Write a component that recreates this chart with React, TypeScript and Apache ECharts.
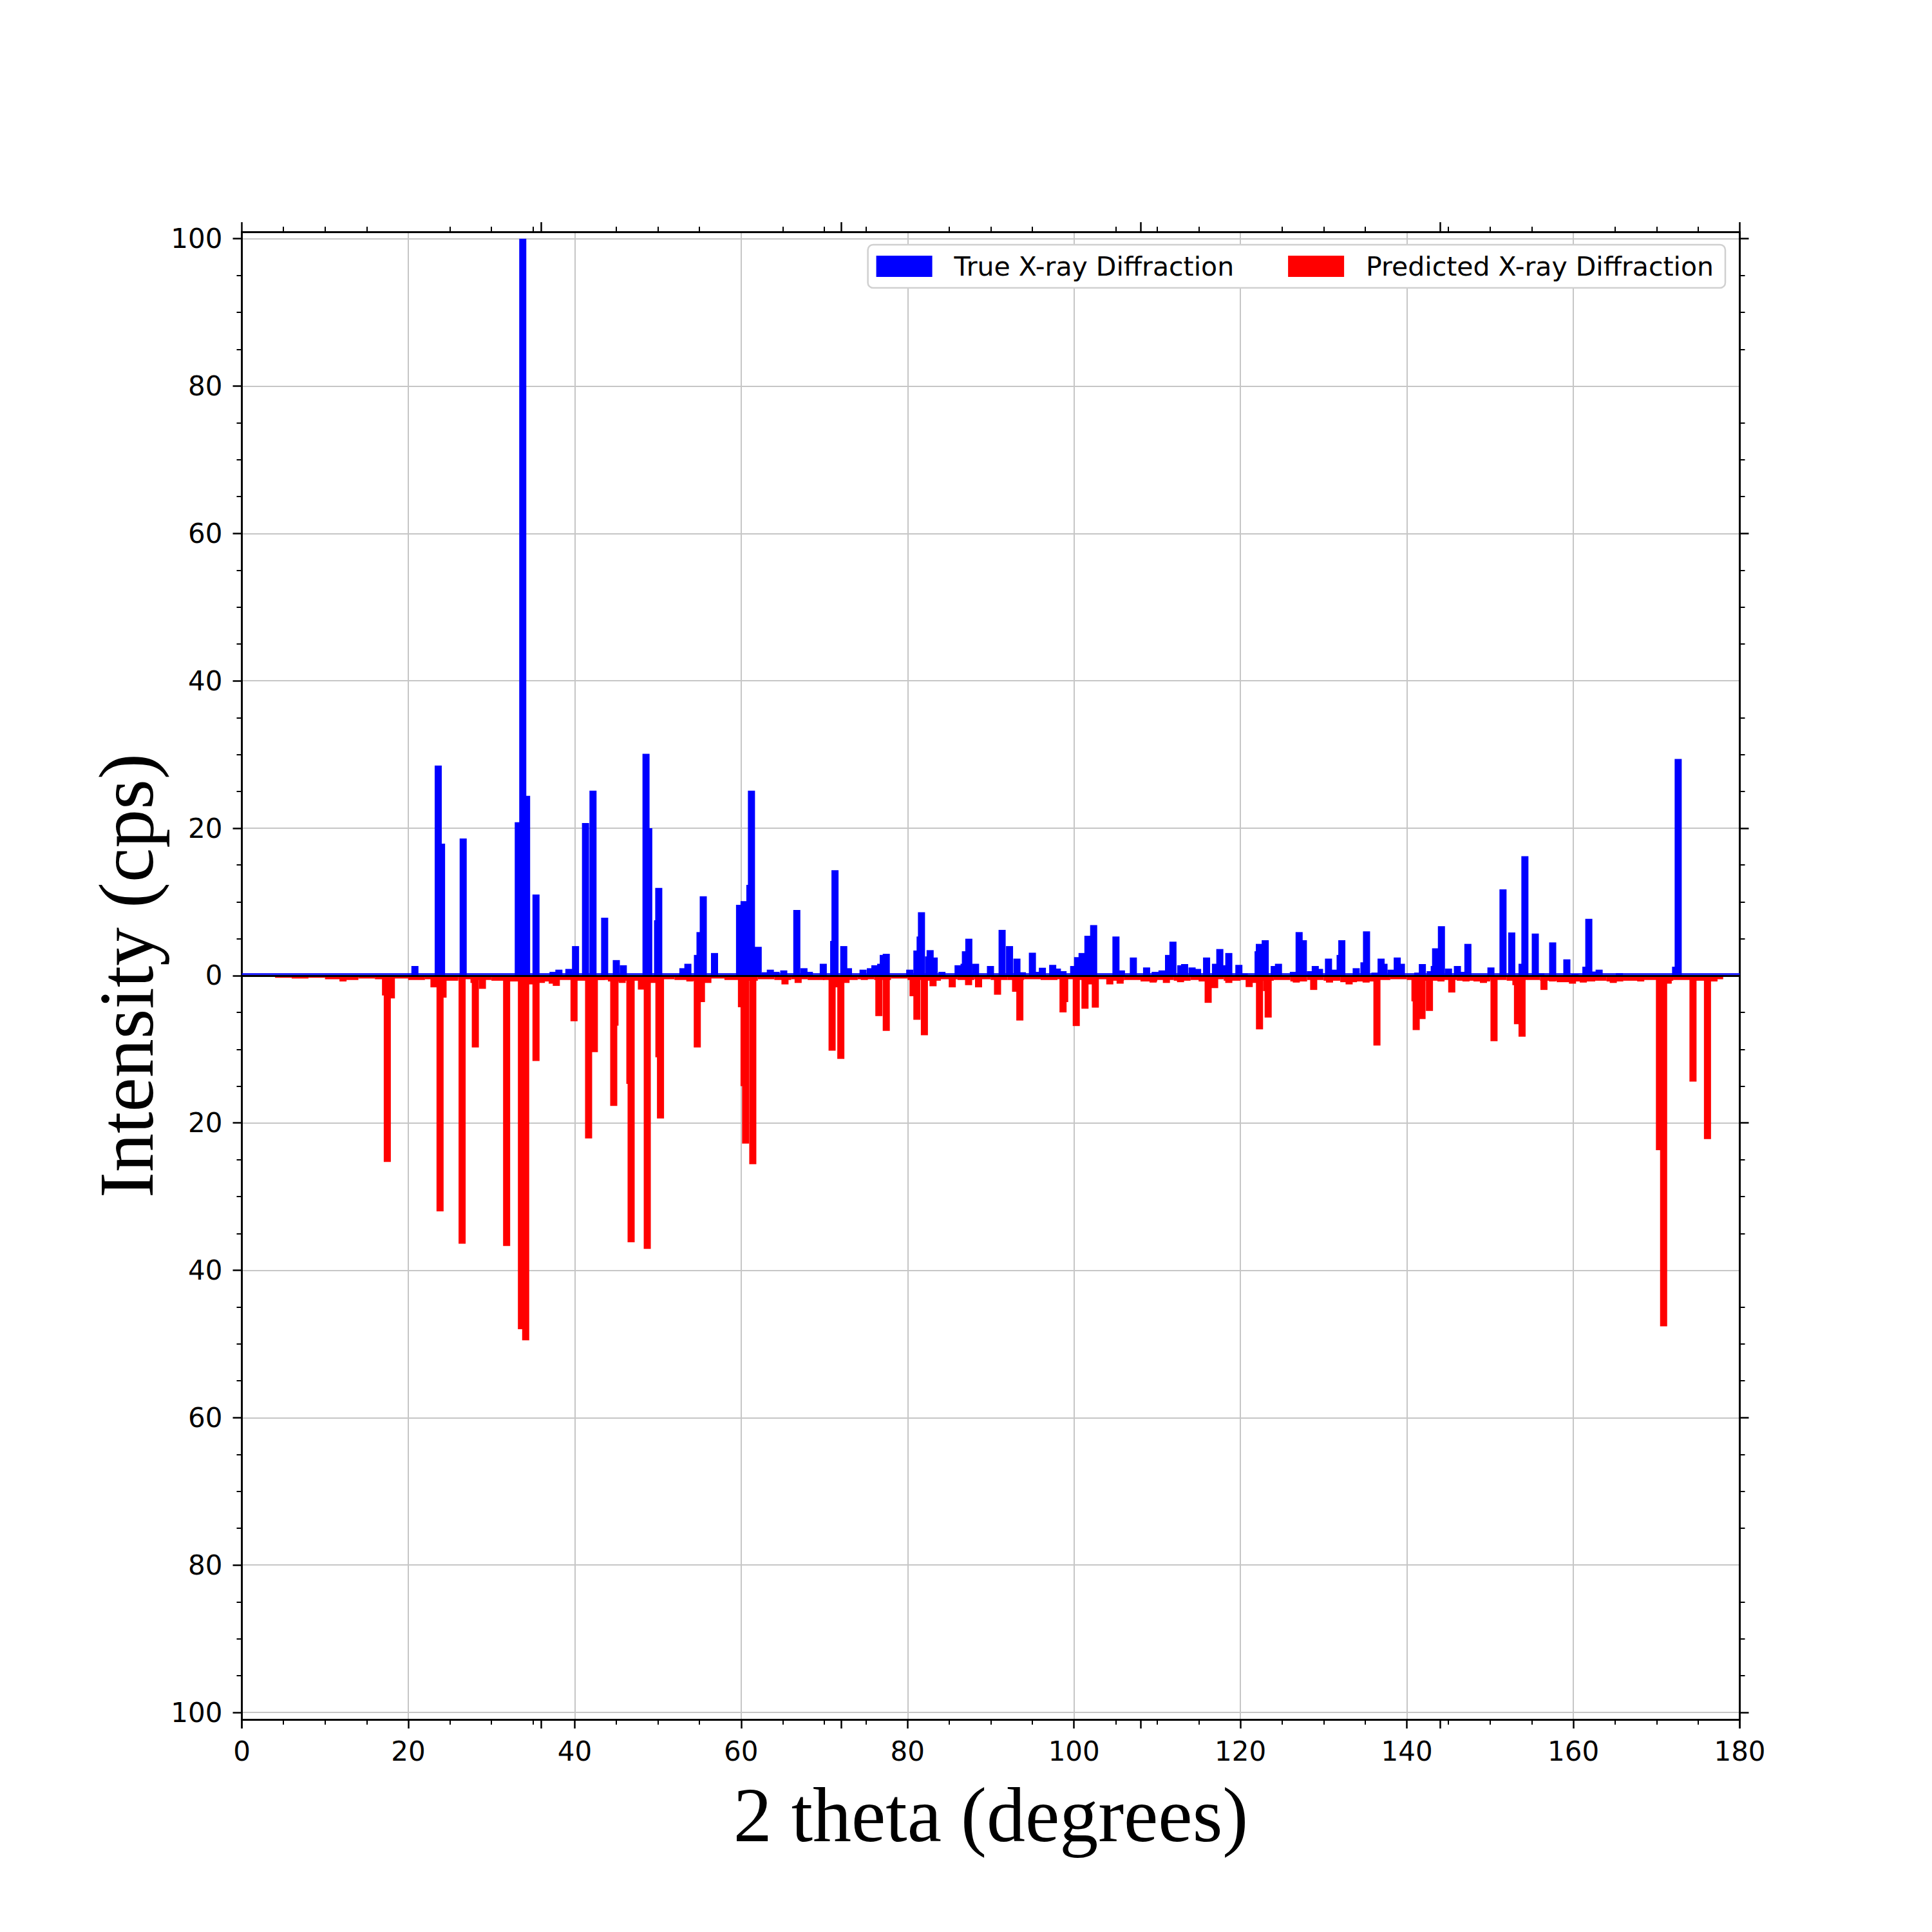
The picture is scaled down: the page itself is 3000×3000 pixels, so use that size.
import React, { useEffect, useRef } from "react";
import * as echarts from "echarts";

// True X-ray diffraction peaks: [2 theta (deg), intensity]
const truePeaks: [number, number][] = [
  [20.8, 1.3],
  [24.0, 17.9], [23.6, 28.5],
  [26.6, 18.6],
  [33.22, 20.8], [34.22, 24.4], [33.76, 100],
  [35.35, 11.0],
  [37.4, 0.5], [38.1, 0.8],
  [39.3, 0.9], [40.1, 4.0],
  [41.3, 20.7],
  [42.2, 25.1],
  [43.6, 7.85],
  [45.0, 2.1], [45.84, 1.4],
  [48.9, 20.0], [48.57, 30.1],
  [49.96, 7.5], [50.1, 11.9],
  [53.0, 1.0], [53.6, 1.6],
  [54.75, 2.8], [55.06, 5.9], [55.45, 10.75],
  [56.8, 3.06],
  [59.81, 9.6], [60.35, 10.1], [61.05, 12.3], [61.24, 25.1], [62.05, 3.9],
  [62.9, 0.45],
  [63.51, 0.8], [64.2, 0.5], [65.12, 0.7],
  [66.69, 8.9], [67.55, 1.0], [68.2, 0.5],
  [69.87, 1.6],
  [71.12, 4.7], [71.28, 14.3],
  [72.33, 4.0], [72.9, 1.0],
  [74.65, 0.8], [75.53, 1.0], [76.07, 1.4], [76.77, 1.6], [77.08, 2.8], [77.44, 2.95],
  [80.26, 0.8],
  [81.12, 3.4], [81.51, 5.3], [81.67, 8.6], [82.52, 2.6], [83.2, 2.45], [82.71, 3.45],
  [84.13, 0.5],
  [86.07, 1.4], [86.79, 1.6], [86.95, 3.3], [87.36, 5.0], [88.17, 1.6],
  [89.96, 1.3],
  [91.36, 6.2], [92.25, 4.0], [93.14, 2.3], [93.8, 0.45],
  [95.0, 3.1], [95.6, 0.5], [96.2, 1.06], [97.44, 1.45], [98.0, 0.95], [98.68, 0.6],
  [99.96, 1.3], [100.43, 2.5], [100.97, 3.06], [101.67, 5.4], [102.36, 6.85],
  [105.04, 5.3], [105.7, 0.7], [107.13, 2.45], [108.72, 1.1], [109.75, 0.5], [110.57, 0.7],
  [111.36, 2.8], [111.89, 4.6],
  [112.83, 1.4], [113.29, 1.56], [114.19, 1.1], [114.85, 0.9],
  [115.93, 2.45],
  [117.0, 1.6], [117.52, 3.6], [118.32, 1.4], [118.6, 3.06],
  [119.81, 1.45], [120.45, 0.3],
  [122.12, 3.3], [122.27, 4.3], [122.98, 4.8],
  [124.06, 1.3], [124.57, 1.6],
  [126.36, 0.5],
  [127.56, 4.8], [127.05, 5.9],
  [128.4, 0.6], [128.99, 1.3], [129.5, 0.9],
  [130.58, 2.3], [131.2, 0.8],
  [131.98, 2.8], [132.18, 4.8],
  [133.91, 1.0],
  [134.84, 1.8], [135.15, 6.0],
  [136.15, 0.4],
  [137.25, 1.6], [136.9, 2.3],
  [138.09, 0.8], [139.34, 1.6], [138.84, 2.45],
  [141.3, 0.4], [141.86, 1.56],
  [142.8, 0.6], [143.29, 1.3], [143.45, 3.7], [144.15, 6.7],
  [145.0, 0.95], [146.07, 1.3], [146.7, 0.5], [147.33, 4.3],
  [150.1, 1.1],
  [151.55, 11.7],
  [152.6, 5.85],
  [153.84, 1.6], [154.18, 16.2],
  [155.43, 5.7], [156.1, 0.3],
  [157.52, 4.5],
  [159.22, 2.2], [160.2, 0.2],
  [161.51, 1.2], [161.86, 7.7], [162.5, 0.55], [163.1, 0.8],
  [165.54, 0.33],
  [172.29, 1.2], [172.6, 29.4],
];

// Predicted X-ray diffraction peaks (drawn downward): [2 theta (deg), -intensity]
const predictedPeaks: [number, number][] = [
  [12.16, -0.8],
  [17.27, -2.7], [17.97, -3.1], [17.48, -25.3],
  [23.09, -1.6], [24.18, -3.0], [23.82, -32.0],
  [26.47, -36.4],
  [27.9, -1.0], [28.06, -9.75], [28.91, -1.8],
  [31.82, -36.7],
  [32.9, -0.8],
  [34.53, -1.2], [33.6, -48.0], [34.11, -49.5],
  [35.35, -11.6],
  [36.0, -1.0],
  [37.3, -1.1], [37.79, -1.4],
  [39.92, -6.2],
  [42.36, -10.4], [41.67, -22.1],
  [43.2, -0.6],
  [44.84, -6.8], [44.69, -17.7],
  [45.7, -1.0],
  [46.63, -14.7], [46.78, -36.2],
  [48.02, -1.9], [48.72, -37.1],
  [49.3, -1.0],
  [50.12, -11.1], [50.31, -19.4],
  [53.84, -0.8],
  [55.23, -3.6], [54.73, -9.75],
  [56.0, -1.0],
  [60.04, -4.3], [60.35, -15.0], [60.54, -22.8], [61.4, -25.6],
  [65.27, -1.2], [66.85, -1.0],
  [70.25, -0.6], [70.93, -10.2], [71.5, -1.6], [71.98, -11.3], [72.6, -1.0],
  [74.8, -0.6], [76.55, -5.5], [77.44, -7.5],
  [80.66, -2.8], [81.12, -6.0], [82.02, -8.1],
  [83.06, -1.45], [85.37, -1.6], [87.33, -1.3], [88.53, -1.6],
  [90.81, -2.6],
  [92.98, -2.2], [93.49, -6.1],
  [98.88, -3.6], [98.68, -5.0],
  [100.27, -6.85],
  [101.32, -4.5], [101.9, -1.2],
  [102.56, -4.35],
  [104.3, -1.2], [105.54, -1.1],
  [109.5, -0.95], [111.1, -1.0], [112.8, -0.9],
  [115.4, -0.8], [116.12, -3.7], [116.9, -1.7],
  [118.6, -1.0],
  [121.05, -1.56], [121.6, -1.0],
  [122.29, -7.3], [123.14, -2.1], [123.33, -5.7],
  [126.71, -0.95], [128.8, -1.95], [130.7, -0.95], [133.06, -1.2], [135.1, -0.95],
  [136.4, -9.5],
  [140.97, -3.5], [141.82, -5.9], [141.12, -7.4], [142.71, -4.8],
  [144.1, -0.8], [145.39, -2.3], [147.1, -0.8], [149.2, -1.0],
  [150.47, -8.9],
  [153.1, -1.3], [153.29, -6.6], [153.84, -8.3],
  [156.47, -1.95], [157.5, -0.8],
  [157.8, -0.7], [159.9, -1.1], [161.2, -0.95], [162.2, -0.8], [164.8, -1.0], [166.3, -0.6], [168.1, -0.8],
  [170.35, -23.7], [170.85, -47.6], [171.4, -1.1],
  [174.38, -14.4],
  [176.12, -22.2], [176.9, -0.8],
];

// Low-level predicted background (2 degree bins)
const predictedBackground: [number, number][] = [
  [5, -0.3], [7, -0.4], [9, -0.3], [11, -0.5], [13, -0.6], [15, -0.4], [17, -0.5], [19, -0.4],
  [21, -0.6], [23, -0.5], [25, -0.7], [27, -0.5], [29, -0.6], [31, -0.7], [33, -0.8], [35, -0.9],
  [37, -0.8], [39, -0.6], [41, -0.7], [43, -0.6], [45, -0.8], [47, -0.7], [49, -0.9], [51, -0.5],
  [53, -0.6], [55, -0.7], [57, -0.4], [59, -0.6], [61, -0.7], [63, -0.5], [65, -0.6], [67, -0.5],
  [69, -0.6], [71, -0.5], [73, -0.6], [75, -0.5], [77, -0.6], [79, -0.4], [81, -0.6], [83, -0.7],
  [85, -0.5], [87, -0.6], [89, -0.5], [91, -0.6], [93, -0.6], [95, -0.5], [97, -0.6], [99, -0.5],
  [101, -0.6], [103, -0.5], [105, -0.7], [107, -0.6], [109, -0.8], [111, -0.6], [113, -0.7], [115, -0.6],
  [117, -0.5], [119, -0.7], [121, -0.6], [123, -0.7], [125, -0.6], [127, -0.8], [129, -0.6], [131, -0.7],
  [133, -0.9], [135, -0.8], [137, -0.6], [139, -0.5], [141, -0.6], [143, -0.7], [145, -0.6], [147, -0.7],
  [149, -0.8], [151, -0.6], [153, -0.7], [155, -0.6], [157, -0.7], [159, -0.9], [161, -0.8], [163, -0.7],
  [165, -0.8], [167, -0.7], [169, -0.6], [171, -0.7], [173, -0.6], [175, -0.7], [177, -0.5],
];

const seriesNames = ["True X-ray Diffraction", "Predicted X-ray Diffraction"];
const xTitle = "2 theta (degrees)";
const yTitle = "Intensity (cps)";

const SANS = "DejaVu Sans";
const SERIF = "Liberation Serif";
const GRID_COLOR = "#c6c6c6";

const GRID_LEFT = 375.5;
const GRID_WIDTH = 2326;

export default function App() {
  const ref = useRef<HTMLDivElement>(null);

  useEffect(() => {
    if (!ref.current) return;
    const chart = echarts.init(ref.current, undefined, { renderer: "svg" });

    const hiddenX = (gridIndex: number) => ({
      type: "value", gridIndex, min: 0, max: 180, show: false,
    });

    const option: any = {
      animation: false,
      backgroundColor: "#ffffff",
      grid: [
        { left: GRID_LEFT, top: 370.7, width: GRID_WIDTH, height: 2288.3, containLabel: false },
        { left: GRID_LEFT, top: 360, width: GRID_WIDTH, height: 2310, containLabel: false },
      ],
      legend: {
        data: seriesNames,
        right: 321,
        top: 380,
        orient: "horizontal",
        icon: "rect",
        itemWidth: 87,
        itemHeight: 33,
        itemGap: 84,
        padding: [13, 18, 13, 13],
        backgroundColor: "#ffffff",
        borderColor: "#d0d0d0",
        borderWidth: 2.5,
        borderRadius: 8,
        textStyle: {
          fontFamily: SANS,
          fontSize: 41,
          color: "#000",
          padding: [0, 0, 0, 29],
        },
      },
      xAxis: [
        hiddenX(0),
        hiddenX(0),
        hiddenX(0),
        {
          type: "value", gridIndex: 1, position: "bottom", min: 0, max: 180, interval: 20,
          axisLine: { show: true, onZero: false, lineStyle: { color: "#000", width: 3 } },
          axisTick: { show: true, inside: false, length: 14, lineStyle: { color: "#000", width: 2.5 } },
          minorTick: { show: true, splitNumber: 4, length: 8, lineStyle: { color: "#000", width: 2 } },
          axisLabel: { show: true, margin: 28, fontFamily: SANS, fontSize: 42, color: "#000" },
          splitLine: { show: true, lineStyle: { color: GRID_COLOR, width: 2 } },
        },
        {
          type: "value", gridIndex: 1, position: "bottom", min: 0, max: 180, interval: 36,
          axisLine: { show: false, onZero: false },
          axisTick: { show: true, inside: false, length: 14, lineStyle: { color: "#000", width: 2.5 } },
          axisLabel: { show: false },
          splitLine: { show: false },
        },
        {
          type: "value", gridIndex: 1, position: "top", min: 0, max: 180, interval: 20,
          axisLine: { show: true, onZero: false, lineStyle: { color: "#000", width: 3 } },
          axisTick: { show: false },
          minorTick: { show: true, splitNumber: 4, length: 8, lineStyle: { color: "#000", width: 2 } },
          axisLabel: { show: false },
          splitLine: { show: false },
        },
        {
          type: "value", gridIndex: 1, position: "top", min: 0, max: 180, interval: 36,
          axisLine: { show: false, onZero: false },
          axisTick: { show: true, inside: false, length: 15, lineStyle: { color: "#000", width: 2.5 } },
          axisLabel: { show: false },
          splitLine: { show: false },
        },
      ],
      yAxis: [
        {
          type: "value", gridIndex: 0, position: "left", min: -100, max: 100, interval: 20,
          axisLine: { show: false, onZero: false },
          axisTick: { show: true, inside: false, length: 14, lineStyle: { color: "#000", width: 2.5 } },
          minorTick: { show: true, splitNumber: 4, length: 8, lineStyle: { color: "#000", width: 2 } },
          axisLabel: {
            show: true, margin: 30, fontFamily: SANS, fontSize: 42, color: "#000",
            formatter: (v: number) => String(Math.abs(v)),
          },
          splitLine: { show: true, lineStyle: { color: GRID_COLOR, width: 2 } },
        },
        {
          type: "value", gridIndex: 0, position: "right", min: -100, max: 100, interval: 40,
          axisLine: { show: false, onZero: false },
          axisTick: { show: true, inside: false, length: 14, lineStyle: { color: "#000", width: 2.5 } },
          axisLabel: { show: false },
          splitLine: { show: false },
        },
        {
          type: "value", gridIndex: 0, position: "right", min: -100, max: 100, interval: 20,
          axisLine: { show: false, onZero: false },
          axisTick: { show: false },
          minorTick: { show: true, splitNumber: 4, length: 8, lineStyle: { color: "#000", width: 2 } },
          axisLabel: { show: false },
          splitLine: { show: false },
        },
        {
          type: "value", gridIndex: 1, position: "left", min: -101, max: 101,
          axisLine: { show: true, onZero: false, lineStyle: { color: "#000", width: 3 } },
          axisTick: { show: false },
          axisLabel: { show: false },
          splitLine: { show: false },
        },
        {
          type: "value", gridIndex: 1, position: "right", min: -101, max: 101,
          axisLine: { show: true, onZero: false, lineStyle: { color: "#000", width: 3 } },
          axisTick: { show: false },
          axisLabel: { show: false },
          splitLine: { show: false },
        },
      ],
      series: [
        {
          name: "background",
          type: "bar",
          xAxisIndex: 2,
          yAxisIndex: 0,
          barWidth: 26,
          data: predictedBackground,
          itemStyle: { color: "#ff0000" },
          silent: true,
          z: 2,
        },
        {
          name: seriesNames[0],
          type: "bar",
          xAxisIndex: 0,
          yAxisIndex: 0,
          barWidth: 11,
          data: truePeaks,
          itemStyle: { color: "#0000ff" },
          z: 3,
          markLine: {
            silent: true,
            symbol: "none",
            label: { show: false },
            lineStyle: { color: "#0000ff", width: 2.5, type: "solid" },
            data: [{ yAxis: 0.2 }],
          },
        },
        {
          name: seriesNames[1],
          type: "bar",
          xAxisIndex: 1,
          yAxisIndex: 0,
          barWidth: 11,
          data: predictedPeaks,
          itemStyle: { color: "#ff0000" },
          z: 4,
          markLine: {
            silent: true,
            symbol: "none",
            label: { show: false },
            lineStyle: { color: "#000000", width: 3, type: "solid" },
            data: [{ yAxis: 0 }],
          },
        },
      ],
      graphic: [
        {
          type: "text",
          x: GRID_LEFT + GRID_WIDTH / 2,
          y: 2818,
          style: {
            text: xTitle,
            fontFamily: SERIF,
            fontSize: 120,
            fill: "#000",
            textAlign: "center",
            textVerticalAlign: "middle",
            align: "center",
            verticalAlign: "middle",
          },
        },
        {
          type: "text",
          x: 196,
          y: 1515,
          rotation: Math.PI / 2,
          style: {
            text: yTitle,
            fontFamily: SERIF,
            fontSize: 120,
            fill: "#000",
            textAlign: "center",
            textVerticalAlign: "middle",
            align: "center",
            verticalAlign: "middle",
          },
        },
      ],
    };

    chart.setOption(option);
    return () => {
      chart.dispose();
    };
  }, []);

  return (
    <div
      ref={ref}
      style={{ position: "fixed", left: 0, top: 0, width: 3000, height: 3000, background: "#fff" }}
    />
  );
}
